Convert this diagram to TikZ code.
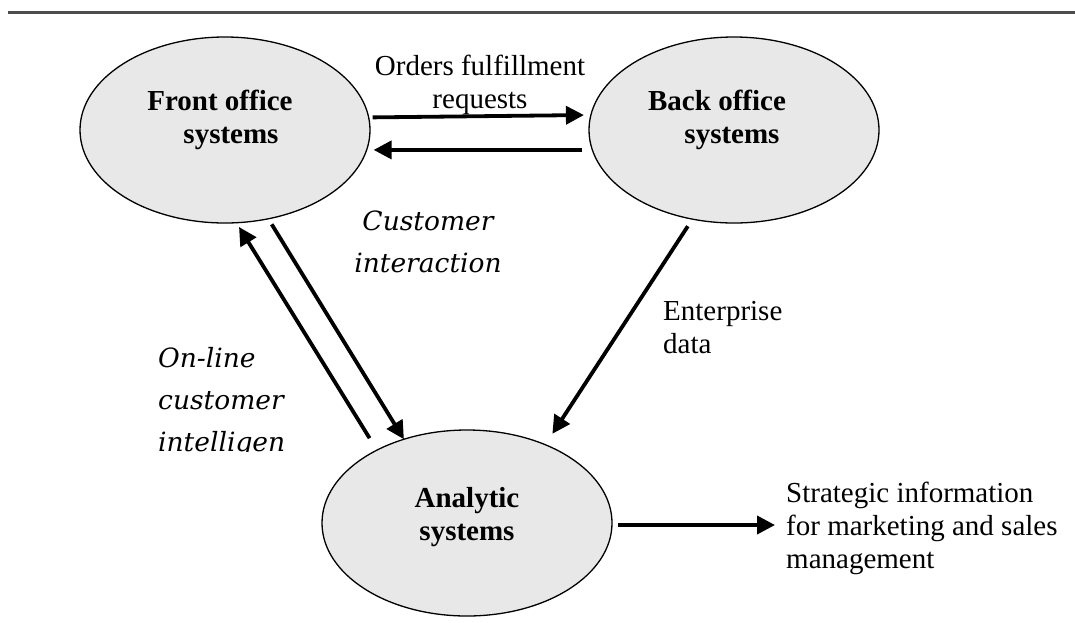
\documentclass[tikz,border=0pt]{standalone}
\usepackage{fontspec}
\setmainfont{Liberation Serif}
\newfontfamily\itserif{DejaVu Serif}
\usetikzlibrary{arrows.meta,shapes.geometric}
\begin{document}
\begin{tikzpicture}[x=1pt,y=-1pt,
  ell/.style={ellipse, draw=black, line width=1.3pt, fill=gray!18,
    minimum width=290pt, minimum height=186pt, inner sep=0pt, outer sep=0pt,
    align=center, font=\bfseries\fontsize{29}{33}\selectfont},
  flow/.style={line width=3.8pt, -{Triangle[length=18pt,width=18pt]}},
  lbl/.style={inner sep=0pt, font=\fontsize{29}{33}\selectfont},
  itlbl/.style={inner sep=0pt, font=\itserif\itshape\fontsize{26.5}{42}\selectfont}]
\useasboundingbox (0,0) rectangle (1075,622);
\draw[line width=3pt, draw=black!70] (8,12) -- (1075,12);

\node[ell] (front) at (225,130) {\hspace*{-10pt}Front office\\\hspace*{12pt}systems\rule[-27pt]{0pt}{0pt}};
\node[ell] (back) at (734,130) {\hspace*{-34pt}Back office\\\hspace*{-4pt}systems\rule[-25.6pt]{0pt}{0pt}};
\node[ell] (analytic) at (467,523) {Analytic\\systems\rule[-18pt]{0pt}{0pt}};

\node[lbl, align=center, anchor=base] (orders) at (480,108) {Orders fulfillment\\requests};
\node[lbl, align=left, anchor=base west] (enterprise) at (663,353) {Enterprise\\data};
\node[lbl, align=left, anchor=base west] (strategic) at (786,568) {Strategic information\\for marketing and sales\\management};
\node[itlbl, align=center, anchor=base] (custint) at (428,272) {Customer\\interaction};
\begin{scope}
  \clip (140,300) rectangle (340,451);
  \node[itlbl, align=left, anchor=base west] (online) at (158,451) {On-line\\customer\\intelligen};
\end{scope}

\draw[flow, shorten <=4pt, shorten >=7pt] (front.5.2) -- (back.174.8);
\draw[flow, shorten <=10pt, shorten >=7pt] (back.188.9) -- (front.-8.94);
\draw[flow, shorten <=6.5pt] (front.-64.7) -- (analytic.127.1);
\draw[flow, shorten <=14pt, shorten >=5pt] (analytic.141.5) -- (front.-83);
\draw[flow, shorten <=8.5pt, shorten >=13pt] (back.-115.4) -- (analytic.45.65);
\coordinate (stratin) at (775,525);
\draw[flow, shorten <=6pt] (analytic.east |- stratin) -- (stratin);
\end{tikzpicture}
\end{document}
